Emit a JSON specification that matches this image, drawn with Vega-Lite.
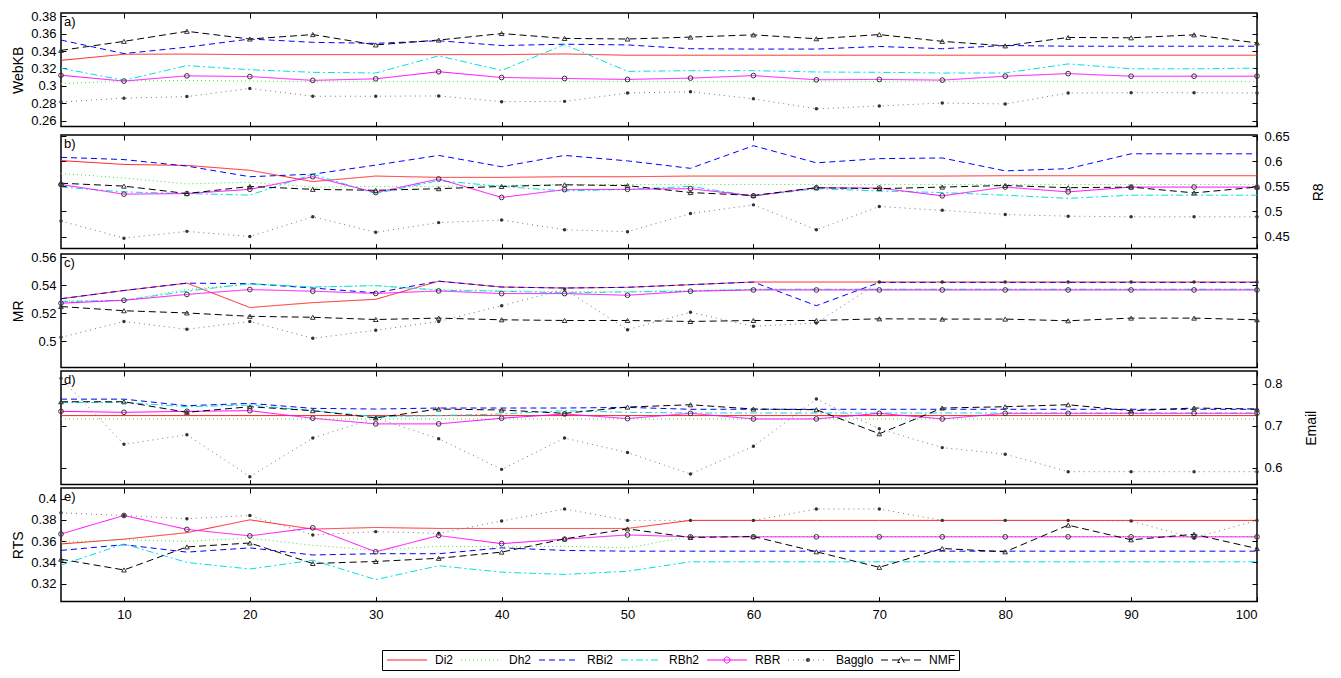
{
  "$schema": "https://vega.github.io/schema/vega-lite/v6.json",
  "padding": {"left": 10, "top": 9, "right": 5, "bottom": 5},
  "background": "white",
  "config": {
    "font": "Liberation Sans",
    "view": {"stroke": "black", "strokeWidth": 1.5},
    "axis": {"labelFont": "Liberation Sans", "labelFontSize": 13, "labelColor": "black", "tickColor": "black", "tickSize": -5, "domain": false, "grid": false, "titleFont": "Liberation Sans", "titleFontSize": 14, "titleFontWeight": "normal", "titleColor": "black", "titlePadding": 5},
    "axisLeft": {"labelPadding": 10},
    "axisRight": {"labelPadding": 12, "titlePadding": 22},
    "axisBottom": {"labelPadding": 12},
    "legend": {"labelFont": "Liberation Sans", "labelFontSize": 12, "labelColor": "black"}
  },
  "datasets": {
    "a": [
      {"k":5,"Di2":0.3294,"Dh2":0.3025,"RBi2":0.3528,"RBh2":0.3204,"RBR":0.3122,"Bagglo":0.2813,"NMF":0.3409},
      {"k":10,"Di2":0.3364,"Dh2":0.3055,"RBi2":0.3372,"RBh2":0.3063,"RBR":0.3055,"Bagglo":0.2858,"NMF":0.3513},
      {"k":15,"Di2":0.3366,"Dh2":0.3063,"RBi2":0.3446,"RBh2":0.3234,"RBR":0.3115,"Bagglo":0.2876,"NMF":0.3629},
      {"k":20,"Di2":0.336,"Dh2":0.3055,"RBi2":0.354,"RBh2":0.3186,"RBR":0.3107,"Bagglo":0.297,"NMF":0.354},
      {"k":25,"Di2":0.336,"Dh2":0.3048,"RBi2":0.3502,"RBh2":0.3156,"RBR":0.3063,"Bagglo":0.288,"NMF":0.3591},
      {"k":30,"Di2":0.336,"Dh2":0.3048,"RBi2":0.349,"RBh2":0.3148,"RBR":0.3081,"Bagglo":0.288,"NMF":0.3472},
      {"k":35,"Di2":0.336,"Dh2":0.3048,"RBi2":0.352,"RBh2":0.3346,"RBR":0.3163,"Bagglo":0.2884,"NMF":0.3528},
      {"k":40,"Di2":0.336,"Dh2":0.3048,"RBi2":0.3465,"RBh2":0.3178,"RBR":0.3096,"Bagglo":0.2817,"NMF":0.3603},
      {"k":45,"Di2":0.3368,"Dh2":0.3048,"RBi2":0.348,"RBh2":0.3476,"RBR":0.3085,"Bagglo":0.2821,"NMF":0.3547},
      {"k":50,"Di2":0.3353,"Dh2":0.3048,"RBi2":0.3472,"RBh2":0.3167,"RBR":0.3074,"Bagglo":0.2917,"NMF":0.354},
      {"k":55,"Di2":0.3353,"Dh2":0.3048,"RBi2":0.3428,"RBh2":0.3175,"RBR":0.3089,"Bagglo":0.2932,"NMF":0.3562},
      {"k":60,"Di2":0.3353,"Dh2":0.3048,"RBi2":0.3424,"RBh2":0.3175,"RBR":0.3118,"Bagglo":0.285,"NMF":0.3588},
      {"k":65,"Di2":0.3353,"Dh2":0.3048,"RBi2":0.3424,"RBh2":0.316,"RBR":0.307,"Bagglo":0.2735,"NMF":0.3543},
      {"k":70,"Di2":0.3353,"Dh2":0.3048,"RBi2":0.3454,"RBh2":0.3156,"RBR":0.3074,"Bagglo":0.2768,"NMF":0.3591},
      {"k":75,"Di2":0.3353,"Dh2":0.3048,"RBi2":0.3428,"RBh2":0.3148,"RBR":0.3066,"Bagglo":0.2802,"NMF":0.3513},
      {"k":80,"Di2":0.3353,"Dh2":0.3048,"RBi2":0.3465,"RBh2":0.3148,"RBR":0.3111,"Bagglo":0.2791,"NMF":0.3461},
      {"k":85,"Di2":0.3353,"Dh2":0.3048,"RBi2":0.3457,"RBh2":0.3253,"RBR":0.3141,"Bagglo":0.2917,"NMF":0.3558},
      {"k":90,"Di2":0.3353,"Dh2":0.3048,"RBi2":0.3457,"RBh2":0.3197,"RBR":0.3111,"Bagglo":0.2921,"NMF":0.3554},
      {"k":95,"Di2":0.3353,"Dh2":0.3048,"RBi2":0.3457,"RBh2":0.3197,"RBR":0.3111,"Bagglo":0.2921,"NMF":0.3588},
      {"k":100,"Di2":0.3353,"Dh2":0.3048,"RBi2":0.3457,"RBh2":0.3204,"RBR":0.3111,"Bagglo":0.2917,"NMF":0.3495}
    ],
    "b": [
      {"k":5,"Di2":0.6011,"Dh2":0.5754,"RBi2":0.6076,"RBh2":0.5484,"RBR":0.5535,"Bagglo":0.4809,"NMF":0.5561},
      {"k":10,"Di2":0.5934,"Dh2":0.5664,"RBi2":0.6031,"RBh2":0.5388,"RBR":0.5343,"Bagglo":0.4468,"NMF":0.5503},
      {"k":15,"Di2":0.5915,"Dh2":0.5548,"RBi2":0.5902,"RBh2":0.5355,"RBR":0.5355,"Bagglo":0.4603,"NMF":0.5355},
      {"k":20,"Di2":0.5818,"Dh2":0.558,"RBi2":0.569,"RBh2":0.5323,"RBR":0.5439,"Bagglo":0.45,"NMF":0.5497},
      {"k":25,"Di2":0.5593,"Dh2":0.5484,"RBi2":0.5741,"RBh2":0.5741,"RBR":0.569,"Bagglo":0.4893,"NMF":0.5439},
      {"k":30,"Di2":0.5703,"Dh2":0.5497,"RBi2":0.5921,"RBh2":0.5355,"RBR":0.5375,"Bagglo":0.4584,"NMF":0.542},
      {"k":35,"Di2":0.5677,"Dh2":0.5497,"RBi2":0.6114,"RBh2":0.5613,"RBR":0.5645,"Bagglo":0.4777,"NMF":0.5452},
      {"k":40,"Di2":0.5677,"Dh2":0.5516,"RBi2":0.5889,"RBh2":0.5497,"RBR":0.5278,"Bagglo":0.4828,"NMF":0.5497},
      {"k":45,"Di2":0.569,"Dh2":0.5535,"RBi2":0.6114,"RBh2":0.5407,"RBR":0.5433,"Bagglo":0.4635,"NMF":0.5529},
      {"k":50,"Di2":0.569,"Dh2":0.5535,"RBi2":0.6005,"RBh2":0.5439,"RBR":0.5439,"Bagglo":0.4597,"NMF":0.5513},
      {"k":55,"Di2":0.5703,"Dh2":0.5535,"RBi2":0.5857,"RBh2":0.5497,"RBR":0.5452,"Bagglo":0.4957,"NMF":0.5375},
      {"k":60,"Di2":0.5703,"Dh2":0.5535,"RBi2":0.6307,"RBh2":0.5304,"RBR":0.531,"Bagglo":0.513,"NMF":0.5317},
      {"k":65,"Di2":0.5703,"Dh2":0.5535,"RBi2":0.5966,"RBh2":0.5452,"RBR":0.5471,"Bagglo":0.4635,"NMF":0.5471},
      {"k":70,"Di2":0.5703,"Dh2":0.5535,"RBi2":0.605,"RBh2":0.5407,"RBR":0.5465,"Bagglo":0.5098,"NMF":0.5452},
      {"k":75,"Di2":0.5703,"Dh2":0.5535,"RBi2":0.6063,"RBh2":0.5375,"RBR":0.531,"Bagglo":0.5021,"NMF":0.5484},
      {"k":80,"Di2":0.571,"Dh2":0.5535,"RBi2":0.5806,"RBh2":0.5323,"RBR":0.5484,"Bagglo":0.4938,"NMF":0.5516},
      {"k":85,"Di2":0.571,"Dh2":0.5535,"RBi2":0.585,"RBh2":0.5259,"RBR":0.5388,"Bagglo":0.4905,"NMF":0.5471},
      {"k":90,"Di2":0.571,"Dh2":0.5535,"RBi2":0.6146,"RBh2":0.5323,"RBR":0.5484,"Bagglo":0.4893,"NMF":0.5484},
      {"k":95,"Di2":0.571,"Dh2":0.5535,"RBi2":0.6146,"RBh2":0.5323,"RBR":0.5484,"Bagglo":0.4893,"NMF":0.5368},
      {"k":100,"Di2":0.571,"Dh2":0.5535,"RBi2":0.6146,"RBh2":0.5323,"RBR":0.5484,"Bagglo":0.4893,"NMF":0.5484}
    ],
    "c": [
      {"k":5,"Di2":0.5304,"Dh2":0.5288,"RBi2":0.5304,"RBh2":0.5283,"RBR":0.5272,"Bagglo":0.5027,"NMF":0.5248},
      {"k":10,"Di2":0.5363,"Dh2":0.5293,"RBi2":0.5363,"RBh2":0.5293,"RBR":0.5293,"Bagglo":0.5141,"NMF":0.5218},
      {"k":15,"Di2":0.5416,"Dh2":0.537,"RBi2":0.5416,"RBh2":0.5358,"RBR":0.5335,"Bagglo":0.5085,"NMF":0.5202},
      {"k":20,"Di2":0.5241,"Dh2":0.541,"RBi2":0.5412,"RBh2":0.5412,"RBR":0.537,"Bagglo":0.5141,"NMF":0.5178},
      {"k":25,"Di2":0.5276,"Dh2":0.5388,"RBi2":0.5381,"RBh2":0.5388,"RBR":0.5358,"Bagglo":0.502,"NMF":0.5171},
      {"k":30,"Di2":0.53,"Dh2":0.5398,"RBi2":0.5346,"RBh2":0.5398,"RBR":0.5342,"Bagglo":0.5078,"NMF":0.5155},
      {"k":35,"Di2":0.543,"Dh2":0.537,"RBi2":0.543,"RBh2":0.5365,"RBR":0.536,"Bagglo":0.5141,"NMF":0.5165},
      {"k":40,"Di2":0.5388,"Dh2":0.536,"RBi2":0.5388,"RBh2":0.5358,"RBR":0.5341,"Bagglo":0.5254,"NMF":0.5153},
      {"k":45,"Di2":0.5381,"Dh2":0.5355,"RBi2":0.5381,"RBh2":0.5346,"RBR":0.5341,"Bagglo":0.5372,"NMF":0.5148},
      {"k":50,"Di2":0.5386,"Dh2":0.5355,"RBi2":0.5386,"RBh2":0.5353,"RBR":0.5329,"Bagglo":0.5082,"NMF":0.5148},
      {"k":55,"Di2":0.5405,"Dh2":0.5365,"RBi2":0.5405,"RBh2":0.5358,"RBR":0.5358,"Bagglo":0.5207,"NMF":0.5141},
      {"k":60,"Di2":0.5424,"Dh2":0.5372,"RBi2":0.5424,"RBh2":0.5372,"RBR":0.5367,"Bagglo":0.5106,"NMF":0.5148},
      {"k":65,"Di2":0.5424,"Dh2":0.5372,"RBi2":0.5254,"RBh2":0.5372,"RBR":0.5367,"Bagglo":0.513,"NMF":0.5148},
      {"k":70,"Di2":0.5424,"Dh2":0.5372,"RBi2":0.5421,"RBh2":0.5372,"RBR":0.5367,"Bagglo":0.5424,"NMF":0.516},
      {"k":75,"Di2":0.5424,"Dh2":0.5372,"RBi2":0.5421,"RBh2":0.5372,"RBR":0.5367,"Bagglo":0.5424,"NMF":0.5158},
      {"k":80,"Di2":0.5424,"Dh2":0.5372,"RBi2":0.5421,"RBh2":0.5372,"RBR":0.5367,"Bagglo":0.5424,"NMF":0.5158},
      {"k":85,"Di2":0.5424,"Dh2":0.5372,"RBi2":0.5421,"RBh2":0.5372,"RBR":0.5367,"Bagglo":0.5424,"NMF":0.5146},
      {"k":90,"Di2":0.5424,"Dh2":0.5372,"RBi2":0.5421,"RBh2":0.5372,"RBR":0.5367,"Bagglo":0.5424,"NMF":0.5165},
      {"k":95,"Di2":0.5424,"Dh2":0.5372,"RBi2":0.5421,"RBh2":0.5372,"RBR":0.5367,"Bagglo":0.5424,"NMF":0.5165},
      {"k":100,"Di2":0.5424,"Dh2":0.5372,"RBi2":0.5421,"RBh2":0.5372,"RBR":0.5367,"Bagglo":0.5424,"NMF":0.5153}
    ],
    "d": [
      {"k":5,"Di2":0.724,"Dh2":0.716,"RBi2":0.7631,"RBh2":0.7553,"RBR":0.7341,"Bagglo":0.8125,"NMF":0.7569},
      {"k":10,"Di2":0.724,"Dh2":0.716,"RBi2":0.7631,"RBh2":0.7553,"RBR":0.7318,"Bagglo":0.6557,"NMF":0.7569},
      {"k":15,"Di2":0.724,"Dh2":0.716,"RBi2":0.7475,"RBh2":0.7451,"RBR":0.7341,"Bagglo":0.6785,"NMF":0.7318},
      {"k":20,"Di2":0.724,"Dh2":0.716,"RBi2":0.753,"RBh2":0.749,"RBR":0.7357,"Bagglo":0.5789,"NMF":0.7451},
      {"k":25,"Di2":0.724,"Dh2":0.716,"RBi2":0.7412,"RBh2":0.7357,"RBR":0.7177,"Bagglo":0.6706,"NMF":0.7357},
      {"k":30,"Di2":0.724,"Dh2":0.716,"RBi2":0.7396,"RBh2":0.7216,"RBR":0.7043,"Bagglo":0.7185,"NMF":0.7185},
      {"k":35,"Di2":0.724,"Dh2":0.716,"RBi2":0.742,"RBh2":0.724,"RBR":0.7043,"Bagglo":0.6691,"NMF":0.7396},
      {"k":40,"Di2":0.724,"Dh2":0.716,"RBi2":0.742,"RBh2":0.7279,"RBR":0.7177,"Bagglo":0.5962,"NMF":0.7373},
      {"k":45,"Di2":0.724,"Dh2":0.716,"RBi2":0.742,"RBh2":0.7357,"RBR":0.7279,"Bagglo":0.6706,"NMF":0.7294},
      {"k":50,"Di2":0.724,"Dh2":0.716,"RBi2":0.7435,"RBh2":0.7318,"RBR":0.7169,"Bagglo":0.6361,"NMF":0.7443},
      {"k":55,"Di2":0.724,"Dh2":0.716,"RBi2":0.739,"RBh2":0.7302,"RBR":0.7294,"Bagglo":0.5852,"NMF":0.7498},
      {"k":60,"Di2":0.724,"Dh2":0.716,"RBi2":0.739,"RBh2":0.7302,"RBR":0.7161,"Bagglo":0.651,"NMF":0.7396},
      {"k":65,"Di2":0.724,"Dh2":0.716,"RBi2":0.739,"RBh2":0.7302,"RBR":0.7161,"Bagglo":0.7632,"NMF":0.738},
      {"k":70,"Di2":0.724,"Dh2":0.716,"RBi2":0.739,"RBh2":0.7302,"RBR":0.7294,"Bagglo":0.6926,"NMF":0.6808},
      {"k":75,"Di2":0.724,"Dh2":0.716,"RBi2":0.739,"RBh2":0.7302,"RBR":0.7161,"Bagglo":0.6479,"NMF":0.742},
      {"k":80,"Di2":0.724,"Dh2":0.716,"RBi2":0.739,"RBh2":0.7302,"RBR":0.7294,"Bagglo":0.6322,"NMF":0.7451},
      {"k":85,"Di2":0.724,"Dh2":0.716,"RBi2":0.739,"RBh2":0.7302,"RBR":0.7294,"Bagglo":0.5907,"NMF":0.7498},
      {"k":90,"Di2":0.724,"Dh2":0.716,"RBi2":0.739,"RBh2":0.7302,"RBR":0.7294,"Bagglo":0.5907,"NMF":0.7357},
      {"k":95,"Di2":0.724,"Dh2":0.716,"RBi2":0.739,"RBh2":0.7302,"RBR":0.7294,"Bagglo":0.5907,"NMF":0.742},
      {"k":100,"Di2":0.724,"Dh2":0.716,"RBi2":0.739,"RBh2":0.7302,"RBR":0.7294,"Bagglo":0.5907,"NMF":0.7396}
    ],
    "e": [
      {"k":5,"Di2":0.3573,"Dh2":0.3591,"RBi2":0.3512,"RBh2":0.3374,"RBR":0.3667,"Bagglo":0.3866,"NMF":0.3429},
      {"k":10,"Di2":0.3618,"Dh2":0.3612,"RBi2":0.3566,"RBh2":0.3573,"RBR":0.3841,"Bagglo":0.3841,"NMF":0.3328},
      {"k":15,"Di2":0.3679,"Dh2":0.3597,"RBi2":0.3496,"RBh2":0.3399,"RBR":0.371,"Bagglo":0.3811,"NMF":0.3545},
      {"k":20,"Di2":0.38,"Dh2":0.3628,"RBi2":0.3536,"RBh2":0.3337,"RBR":0.3649,"Bagglo":0.3841,"NMF":0.3582},
      {"k":25,"Di2":0.3713,"Dh2":0.356,"RBi2":0.3469,"RBh2":0.342,"RBR":0.3725,"Bagglo":0.3658,"NMF":0.3389},
      {"k":30,"Di2":0.3728,"Dh2":0.3512,"RBi2":0.3481,"RBh2":0.3237,"RBR":0.3499,"Bagglo":0.3689,"NMF":0.3408},
      {"k":35,"Di2":0.3719,"Dh2":0.3551,"RBi2":0.3481,"RBh2":0.3368,"RBR":0.3652,"Bagglo":0.3673,"NMF":0.3438},
      {"k":40,"Di2":0.3719,"Dh2":0.3545,"RBi2":0.3536,"RBh2":0.3307,"RBR":0.3576,"Bagglo":0.3789,"NMF":0.3496},
      {"k":45,"Di2":0.3719,"Dh2":0.3551,"RBi2":0.3512,"RBh2":0.3286,"RBR":0.3618,"Bagglo":0.3902,"NMF":0.3621},
      {"k":50,"Di2":0.3719,"Dh2":0.3536,"RBi2":0.3505,"RBh2":0.3316,"RBR":0.3658,"Bagglo":0.3795,"NMF":0.3715},
      {"k":55,"Di2":0.3795,"Dh2":0.3643,"RBi2":0.3505,"RBh2":0.3405,"RBR":0.364,"Bagglo":0.3795,"NMF":0.3634},
      {"k":60,"Di2":0.3795,"Dh2":0.3643,"RBi2":0.3505,"RBh2":0.3405,"RBR":0.364,"Bagglo":0.3795,"NMF":0.3643},
      {"k":65,"Di2":0.3795,"Dh2":0.3643,"RBi2":0.3505,"RBh2":0.3405,"RBR":0.364,"Bagglo":0.3902,"NMF":0.3499},
      {"k":70,"Di2":0.3795,"Dh2":0.3643,"RBi2":0.3505,"RBh2":0.3405,"RBR":0.364,"Bagglo":0.3902,"NMF":0.3353},
      {"k":75,"Di2":0.3795,"Dh2":0.3643,"RBi2":0.3505,"RBh2":0.3405,"RBR":0.364,"Bagglo":0.3795,"NMF":0.353},
      {"k":80,"Di2":0.3795,"Dh2":0.3643,"RBi2":0.3505,"RBh2":0.3405,"RBR":0.364,"Bagglo":0.3795,"NMF":0.3499},
      {"k":85,"Di2":0.3795,"Dh2":0.3643,"RBi2":0.3505,"RBh2":0.3405,"RBR":0.364,"Bagglo":0.3795,"NMF":0.375},
      {"k":90,"Di2":0.3795,"Dh2":0.3643,"RBi2":0.3505,"RBh2":0.3405,"RBR":0.364,"Bagglo":0.3789,"NMF":0.3612},
      {"k":95,"Di2":0.3795,"Dh2":0.3643,"RBi2":0.3505,"RBh2":0.3405,"RBR":0.364,"Bagglo":0.3628,"NMF":0.3664},
      {"k":100,"Di2":0.3795,"Dh2":0.3643,"RBi2":0.3505,"RBh2":0.3405,"RBR":0.364,"Bagglo":0.3795,"NMF":0.353}
    ]
  },
  "vconcat": [
    {
      "width": 1196, "height": 113.6,
      "data": {"name": "a"},
      "transform": [{"fold": ["Di2","Dh2","RBi2","RBh2","RBR","Bagglo","NMF"], "as": ["m","v"]}],
      "layer": [
        {"mark": {"type": "line", "strokeWidth": 1, "clip": true},
         "encoding": {
           "x": {"field": "k", "type": "quantitative", "scale": {"domain": [5,100], "nice": false, "zero": false}, "axis": {"orient": "bottom", "values": [10,20,30,40,50,60,70,80,90,100], "labels": false, "title": null}},
           "y": {"field": "v", "type": "quantitative", "scale": {"domain": [0.253,0.384], "nice": false, "zero": false}, "axis": {"orient": "left", "values": [0.26,0.28,0.3,0.32,0.34,0.36,0.38], "format": "~g", "title": "WebKB"}},
           "color": {"field": "m", "type": "nominal", "scale": {"domain": ["Di2","Dh2","RBi2","RBh2","RBR","Bagglo","NMF"], "range": ["#ff2020","#3ee03e","#0000ff","#00e0e0","#ff00ff","#777777","#000000"]}, "legend": {"orient": "none", "legendX": 321, "legendY": 637, "direction": "horizontal", "columns": 7, "symbolType": "M-1,0H7", "symbolSize": 100, "symbolStrokeWidth": 1, "strokeColor": "black", "padding": 4, "title": null, "columnPadding": 5, "labelOffset": 37,
             "encode": {"symbols": {"update": {
               "shape": {"signal": "datum.value === 'RBR' ? 'M-1,0H7M3.6,0A0.6,0.6,0,1,1,2.4,0A0.6,0.6,0,1,1,3.6,0Z' : datum.value === 'Bagglo' ? 'M-1,0H7M3.4,0A0.4,0.4,0,1,1,2.6,0A0.4,0.4,0,1,1,3.4,0Z' : datum.value === 'NMF' ? 'M-1,0H7M3,-0.65L3.65,0.5L2.35,0.5Z' : 'M-1,0H7'"},
               "fill": {"signal": "datum.value === 'Bagglo' ? '#333333' : 'transparent'"}
             }}}}},
           "strokeDash": {"field": "m", "type": "nominal", "scale": {"domain": ["Di2","Dh2","RBi2","RBh2","RBR","Bagglo","NMF"], "range": [[1,0],[1,3],[6,4],[7,3,2,3],[1,0],[1,4],[7,4]]}, "legend": {"orient": "none", "legendX": 321, "legendY": 637, "direction": "horizontal", "columns": 7, "symbolType": "M-1,0H7", "symbolSize": 100, "symbolStrokeWidth": 1, "strokeColor": "black", "padding": 4, "title": null, "columnPadding": 5, "labelOffset": 37,
             "encode": {"symbols": {"update": {
               "shape": {"signal": "datum.value === 'RBR' ? 'M-1,0H7M3.6,0A0.6,0.6,0,1,1,2.4,0A0.6,0.6,0,1,1,3.6,0Z' : datum.value === 'Bagglo' ? 'M-1,0H7M3.4,0A0.4,0.4,0,1,1,2.6,0A0.4,0.4,0,1,1,3.4,0Z' : datum.value === 'NMF' ? 'M-1,0H7M3,-0.65L3.65,0.5L2.35,0.5Z' : 'M-1,0H7'"},
               "fill": {"signal": "datum.value === 'Bagglo' ? '#333333' : 'transparent'"}
             }}}}}
         }},
        {"transform": [{"filter": {"field": "m", "oneOf": ["RBR","NMF"]}}],
         "mark": {"type": "point", "filled": false, "stroke": "#333333", "size": 22, "strokeWidth": 1, "opacity": 1},
         "encoding": {
           "x": {"field": "k", "type": "quantitative", "axis": {"orient": "top", "values": [10,20,30,40,50,60,70,80,90,100], "labels": false, "title": null}},
           "y": {"field": "v", "type": "quantitative", "axis": {"orient": "right", "values": [0.26,0.28,0.3,0.32,0.34,0.36,0.38], "labels": false, "title": null}},
           "shape": {"field": "m", "type": "nominal", "scale": {"domain": ["RBR","NMF"], "range": ["circle","triangle-up"]}, "legend": null}
         }},
        {"transform": [{"filter": {"field": "m", "equal": "Bagglo"}}],
         "mark": {"type": "circle", "size": 12, "color": "#333333", "opacity": 1},
         "encoding": {
           "x": {"field": "k", "type": "quantitative", "axis": null},
           "y": {"field": "v", "type": "quantitative", "axis": null}
         }},
        {"data": {"values": [{"t": "a)"}]},
         "mark": {"type": "text", "align": "left", "baseline": "top", "dx": 3, "dy": 3, "fontSize": 13, "color": "black"},
         "encoding": {"x": {"datum": 5, "axis": null}, "y": {"datum": 0.384, "axis": null}, "text": {"field": "t"}}}
      ],
      "resolve": {"axis": {"x": "independent", "y": "independent"}}
    },
    {
      "width": 1196, "height": 113.6,
      "data": {"name": "b"},
      "transform": [{"fold": ["Di2","Dh2","RBi2","RBh2","RBR","Bagglo","NMF"], "as": ["m","v"]}],
      "layer": [
        {"mark": {"type": "line", "strokeWidth": 1, "clip": true},
         "encoding": {
           "x": {"field": "k", "type": "quantitative", "scale": {"domain": [5,100], "nice": false, "zero": false}, "axis": {"orient": "bottom", "values": [10,20,30,40,50,60,70,80,90,100], "labels": false, "title": null}},
           "y": {"field": "v", "type": "quantitative", "scale": {"domain": [0.426,0.652], "nice": false, "zero": false}, "axis": {"orient": "left", "values": [0.45,0.5,0.55,0.6,0.65], "labels": false, "title": null}},
           "color": {"field": "m", "type": "nominal"},
           "strokeDash": {"field": "m", "type": "nominal"}
         }},
        {"transform": [{"filter": {"field": "m", "oneOf": ["RBR","NMF"]}}],
         "mark": {"type": "point", "filled": false, "stroke": "#333333", "size": 22, "strokeWidth": 1, "opacity": 1},
         "encoding": {
           "x": {"field": "k", "type": "quantitative", "axis": {"orient": "top", "values": [10,20,30,40,50,60,70,80,90,100], "labels": false, "title": null}},
           "y": {"field": "v", "type": "quantitative", "axis": {"orient": "right", "values": [0.45,0.5,0.55,0.6,0.65], "format": "~g", "title": "R8", "titleAngle": 270, "titleBaseline": "top"}},
           "shape": {"field": "m", "type": "nominal", "scale": {"domain": ["RBR","NMF"], "range": ["circle","triangle-up"]}, "legend": null}
         }},
        {"transform": [{"filter": {"field": "m", "equal": "Bagglo"}}],
         "mark": {"type": "circle", "size": 12, "color": "#333333", "opacity": 1},
         "encoding": {
           "x": {"field": "k", "type": "quantitative", "axis": null},
           "y": {"field": "v", "type": "quantitative", "axis": null}
         }},
        {"data": {"values": [{"t": "b)"}]},
         "mark": {"type": "text", "align": "left", "baseline": "top", "dx": 3, "dy": 3, "fontSize": 13, "color": "black"},
         "encoding": {"x": {"datum": 5, "axis": null}, "y": {"datum": 0.652, "axis": null}, "text": {"field": "t"}}}
      ],
      "resolve": {"axis": {"x": "independent", "y": "independent"}}
    },
    {
      "width": 1196, "height": 113.6,
      "data": {"name": "c"},
      "transform": [{"fold": ["Di2","Dh2","RBi2","RBh2","RBR","Bagglo","NMF"], "as": ["m","v"]}],
      "layer": [
        {"mark": {"type": "line", "strokeWidth": 1, "clip": true},
         "encoding": {
           "x": {"field": "k", "type": "quantitative", "scale": {"domain": [5,100], "nice": false, "zero": false}, "axis": {"orient": "bottom", "values": [10,20,30,40,50,60,70,80,90,100], "labels": false, "title": null}},
           "y": {"field": "v", "type": "quantitative", "scale": {"domain": [0.481,0.5625], "nice": false, "zero": false}, "axis": {"orient": "left", "values": [0.5,0.52,0.54,0.56], "format": "~g", "title": "MR"}},
           "color": {"field": "m", "type": "nominal"},
           "strokeDash": {"field": "m", "type": "nominal"}
         }},
        {"transform": [{"filter": {"field": "m", "oneOf": ["RBR","NMF"]}}],
         "mark": {"type": "point", "filled": false, "stroke": "#333333", "size": 22, "strokeWidth": 1, "opacity": 1},
         "encoding": {
           "x": {"field": "k", "type": "quantitative", "axis": {"orient": "top", "values": [10,20,30,40,50,60,70,80,90,100], "labels": false, "title": null}},
           "y": {"field": "v", "type": "quantitative", "axis": {"orient": "right", "values": [0.5,0.52,0.54,0.56], "labels": false, "title": null}},
           "shape": {"field": "m", "type": "nominal", "scale": {"domain": ["RBR","NMF"], "range": ["circle","triangle-up"]}, "legend": null}
         }},
        {"transform": [{"filter": {"field": "m", "equal": "Bagglo"}}],
         "mark": {"type": "circle", "size": 12, "color": "#333333", "opacity": 1},
         "encoding": {
           "x": {"field": "k", "type": "quantitative", "axis": null},
           "y": {"field": "v", "type": "quantitative", "axis": null}
         }},
        {"data": {"values": [{"t": "c)"}]},
         "mark": {"type": "text", "align": "left", "baseline": "top", "dx": 3, "dy": 3, "fontSize": 13, "color": "black"},
         "encoding": {"x": {"datum": 5, "axis": null}, "y": {"datum": 0.5625, "axis": null}, "text": {"field": "t"}}}
      ],
      "resolve": {"axis": {"x": "independent", "y": "independent"}}
    },
    {
      "width": 1196, "height": 113.6,
      "data": {"name": "d"},
      "transform": [{"fold": ["Di2","Dh2","RBi2","RBh2","RBR","Bagglo","NMF"], "as": ["m","v"]}],
      "layer": [
        {"mark": {"type": "line", "strokeWidth": 1, "clip": true},
         "encoding": {
           "x": {"field": "k", "type": "quantitative", "scale": {"domain": [5,100], "nice": false, "zero": false}, "axis": {"orient": "bottom", "values": [10,20,30,40,50,60,70,80,90,100], "labels": false, "title": null}},
           "y": {"field": "v", "type": "quantitative", "scale": {"domain": [0.56,0.83], "nice": false, "zero": false}, "axis": {"orient": "left", "values": [0.6,0.7,0.8], "labels": false, "title": null}},
           "color": {"field": "m", "type": "nominal"},
           "strokeDash": {"field": "m", "type": "nominal"}
         }},
        {"transform": [{"filter": {"field": "m", "oneOf": ["RBR","NMF"]}}],
         "mark": {"type": "point", "filled": false, "stroke": "#333333", "size": 22, "strokeWidth": 1, "opacity": 1},
         "encoding": {
           "x": {"field": "k", "type": "quantitative", "axis": {"orient": "top", "values": [10,20,30,40,50,60,70,80,90,100], "labels": false, "title": null}},
           "y": {"field": "v", "type": "quantitative", "axis": {"orient": "right", "values": [0.6,0.7,0.8], "format": "~g", "title": "Email", "titleAngle": 270, "titleBaseline": "top"}},
           "shape": {"field": "m", "type": "nominal", "scale": {"domain": ["RBR","NMF"], "range": ["circle","triangle-up"]}, "legend": null}
         }},
        {"transform": [{"filter": {"field": "m", "equal": "Bagglo"}}],
         "mark": {"type": "circle", "size": 12, "color": "#333333", "opacity": 1},
         "encoding": {
           "x": {"field": "k", "type": "quantitative", "axis": null},
           "y": {"field": "v", "type": "quantitative", "axis": null}
         }},
        {"data": {"values": [{"t": "d)"}]},
         "mark": {"type": "text", "align": "left", "baseline": "top", "dx": 3, "dy": 3, "fontSize": 13, "color": "black"},
         "encoding": {"x": {"datum": 5, "axis": null}, "y": {"datum": 0.83, "axis": null}, "text": {"field": "t"}}}
      ],
      "resolve": {"axis": {"x": "independent", "y": "independent"}}
    },
    {
      "width": 1196, "height": 113.6,
      "data": {"name": "e"},
      "transform": [{"fold": ["Di2","Dh2","RBi2","RBh2","RBR","Bagglo","NMF"], "as": ["m","v"]}],
      "layer": [
        {"mark": {"type": "line", "strokeWidth": 1, "clip": true},
         "encoding": {
           "x": {"field": "k", "type": "quantitative", "scale": {"domain": [5,100], "nice": false, "zero": false}, "axis": {"orient": "bottom", "values": [10,20,30,40,50,60,70,80,90,100], "title": null}},
           "y": {"field": "v", "type": "quantitative", "scale": {"domain": [0.303,0.41], "nice": false, "zero": false}, "axis": {"orient": "left", "values": [0.32,0.34,0.36,0.38,0.4], "format": "~g", "title": "RTS"}},
           "color": {"field": "m", "type": "nominal"},
           "strokeDash": {"field": "m", "type": "nominal"}
         }},
        {"transform": [{"filter": {"field": "m", "oneOf": ["RBR","NMF"]}}],
         "mark": {"type": "point", "filled": false, "stroke": "#333333", "size": 22, "strokeWidth": 1, "opacity": 1},
         "encoding": {
           "x": {"field": "k", "type": "quantitative", "axis": {"orient": "top", "values": [10,20,30,40,50,60,70,80,90,100], "labels": false, "title": null}},
           "y": {"field": "v", "type": "quantitative", "axis": {"orient": "right", "values": [0.32,0.34,0.36,0.38,0.4], "labels": false, "title": null}},
           "shape": {"field": "m", "type": "nominal", "scale": {"domain": ["RBR","NMF"], "range": ["circle","triangle-up"]}, "legend": null}
         }},
        {"transform": [{"filter": {"field": "m", "equal": "Bagglo"}}],
         "mark": {"type": "circle", "size": 12, "color": "#333333", "opacity": 1},
         "encoding": {
           "x": {"field": "k", "type": "quantitative", "axis": null},
           "y": {"field": "v", "type": "quantitative", "axis": null}
         }},
        {"data": {"values": [{"t": "e)"}]},
         "mark": {"type": "text", "align": "left", "baseline": "top", "dx": 3, "dy": 3, "fontSize": 13, "color": "black"},
         "encoding": {"x": {"datum": 5, "axis": null}, "y": {"datum": 0.41, "axis": null}, "text": {"field": "t"}}}
      ],
      "resolve": {"axis": {"x": "independent", "y": "independent"}}
    }
  ],
  "spacing": 0,
  "resolve": {"scale": {"color": "shared", "strokeDash": "shared"}, "legend": {"color": "shared", "strokeDash": "shared"}}
}
